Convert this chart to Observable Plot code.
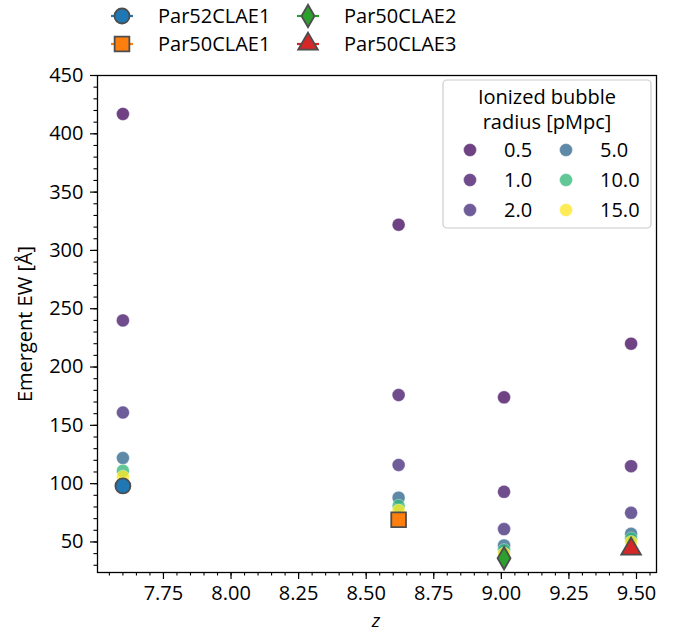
<!DOCTYPE html>
<html><head><meta charset="utf-8">
<script src="https://cdn.jsdelivr.net/npm/d3@7"></script>
<script src="https://cdn.jsdelivr.net/npm/@observablehq/plot@0.6"></script>
<style>
body{margin:0;background:#fff}
#chart svg{font-family:"Open Sans",sans-serif}
</style>
</head><body><div id="chart"></div>
<script>
// ---- data ----
const redshifts = [7.60, 8.62, 9.01, 9.48];
const radii = [0.5, 1.0, 2.0, 5.0, 10.0, 15.0];
const ewR05 = [417, 322, 174, 220];
const ewR1  = [240, 176, 93, 115];
const ewR2  = [161, 116, 61, 75];
const ewR5  = [122, 88, 47, 57];
const ewR10 = [111, 81, 43, 53];
const ewR15 = [106, 77, 40, 50];
const sources = ["Par52CLAE1", "Par50CLAE1", "Par50CLAE2", "Par50CLAE3"];
const sourceEW = [98, 69, 36, 44];
const sourceColors = ["#1f77b4", "#ff7f0e", "#2ca02c", "#d62728"];
const sourceSymbols = ["circle", "square", "diamond", "triangle"];
const sourceR = [7.5, 8.3, 6.8, 7.3];
const xTicks = [7.75, 8.00, 8.25, 8.50, 8.75, 9.00, 9.25, 9.50];
const yTicks = [50, 100, 150, 200, 250, 300, 350, 400, 450];
const xMinor = d3.range(7.55, 9.5701, 0.05).map(v => +v.toFixed(2));
const yMinor = d3.range(30, 451, 10);

const ewSeries = [ewR05, ewR1, ewR2, ewR5, ewR10, ewR15];
const bubbles = radii.flatMap((r, i) => redshifts.map((z, j) => ({z, ew: ewSeries[i][j], r})));
const srcData = sources.map((name, i) => ({name, z: redshifts[i], ew: sourceEW[i], color: sourceColors[i], symbol: sourceSymbols[i], r: sourceR[i]}));
const bubbleColor = r => d3.interpolateViridis(r / 15);

const FS = 20;
const plot = Plot.plot({
  width: 673, height: 633,
  marginLeft: 97, marginRight: 17, marginTop: 75, marginBottom: 61,
  style: {fontFamily: "Open Sans, sans-serif", fontSize: FS + "px", background: "white", color: "black"},
  x: {domain: [7.506, 9.574]},
  y: {domain: [23.8, 450]},
  color: {type: "identity"},
  marks: [
    Plot.dot(bubbles, {x: "z", y: "ew", r: 6.5, fill: d => bubbleColor(d.r), fillOpacity: 0.78, stroke: "white", strokeOpacity: 0.45, strokeWidth: 0.8}),
    ...srcData.map(s => Plot.dot([s], {x: "z", y: "ew", r: s.r, symbol: () => s.symbol, fill: s.color, stroke: "#4d4d4d", strokeWidth: 1.8})),
    Plot.axisX(xMinor, {tickSize: 3.5, tickFormat: () => "", label: null, strokeWidth: 1.1}),
    Plot.axisX(xTicks, {tickSize: 7, tickFormat: d3.format(".2f"), tickPadding: 6, label: null, strokeWidth: 1.2, fontSize: FS}),
    Plot.axisY(yMinor, {tickSize: 3.5, tickFormat: () => "", label: null, strokeWidth: 1.1}),
    Plot.axisY(yTicks, {tickSize: 7, tickPadding: 7, label: "Emergent EW [Å]", labelAnchor: "center", labelArrow: "none", labelOffset: 80, strokeWidth: 1.2, fontSize: FS}),
    Plot.frame({stroke: "black", strokeWidth: 1.3})
  ]
});
document.getElementById("chart").appendChild(plot);

const svg = d3.select(plot);
const symMap = {circle: d3.symbolCircle, square: d3.symbolSquare, diamond: d3.symbolDiamond, triangle: d3.symbolTriangle};

// x label
svg.append("text").attr("x", 376).attr("y", 627).attr("text-anchor", "middle")
  .attr("font-style", "italic").attr("font-size", 19).text("z");

// top legend (sources)
const topPos = [[122, 16], [122, 44], [308, 16], [308, 44]];
const tl = svg.append("g").attr("text-anchor", "start");
srcData.forEach((s, i) => {
  const [cx, cy] = topPos[i];
  tl.append("line").attr("x1", cx - 11).attr("x2", cx + 11).attr("y1", cy).attr("y2", cy)
    .attr("stroke", s.color).attr("stroke-width", 2.2);
  tl.append("path").attr("transform", `translate(${cx},${cy})`)
    .attr("d", d3.symbol(symMap[s.symbol], Math.PI * s.r * s.r)())
    .attr("fill", s.color).attr("stroke", "#4d4d4d").attr("stroke-width", 1.8);
  tl.append("text").attr("x", cx + 36).attr("y", cy).attr("dy", "0.35em")
    .attr("text-anchor", "start").attr("font-size", FS).text(s.name);
});

// right legend (bubble radius)
const rl = svg.append("g");
rl.append("rect").attr("x", 443).attr("y", 80).attr("width", 208).attr("height", 148).attr("rx", 4)
  .attr("fill", "white").attr("fill-opacity", 0.8).attr("stroke", "#cccccc").attr("stroke-width", 1.2);
rl.append("text").attr("x", 547).attr("y", 97).attr("dy", "0.35em").attr("text-anchor", "middle").attr("font-size", FS).text("Ionized bubble");
rl.append("text").attr("x", 547).attr("y", 122).attr("dy", "0.35em").attr("text-anchor", "middle").attr("font-size", FS).text("radius [pMpc]");
radii.forEach((r, i) => {
  const col = Math.floor(i / 3), row = i % 3;
  const mx = col === 0 ? 470 : 566, ty = 150 + row * 30;
  rl.append("circle").attr("cx", mx).attr("cy", ty).attr("r", 6.5).attr("fill", bubbleColor(r)).attr("fill-opacity", 0.78)
    .attr("stroke", "white").attr("stroke-opacity", 0.45).attr("stroke-width", 0.8);
  rl.append("text").attr("x", col === 0 ? 504 : 600).attr("y", ty).attr("dy", "0.35em").attr("text-anchor", "start").attr("font-size", FS)
    .text(d3.format(".1f")(r));
});
</script>
</body></html>
